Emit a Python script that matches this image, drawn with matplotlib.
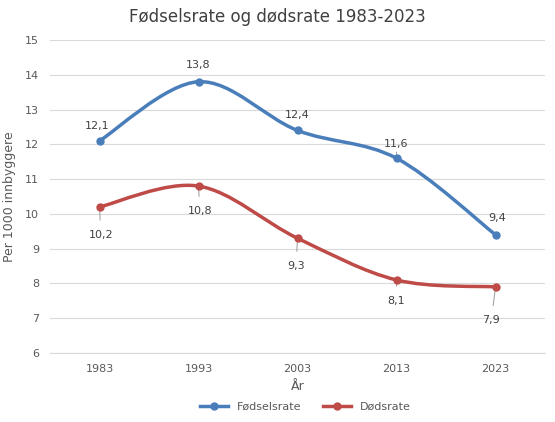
import matplotlib.pyplot as plt
from matplotlib.path import Path
from matplotlib.patches import PathPatch

years = ["1983", "1993", "2003", "2013", "2023"]
fodsel = [12.1, 13.8, 12.4, 11.6, 9.4]
dods = [10.2, 10.8, 9.3, 8.1, 7.9]
fodsel_offsets = [(-2, 11), (0, 12), (0, 11), (0, 10), (1, 12)]
dods_offsets = [(1, -20), (1, -18), (-1, -20), (0, -15), (-3, -24)]

BLUE = "#4a7ebb"
RED = "#be4b48"


def smooth_path(xs, ys, t=1 / 6):
    # Bezier spline through the points (Excel style smoothing)
    verts = [(xs[0], ys[0])]
    codes = [Path.MOVETO]
    n = len(xs)
    for i in range(n - 1):
        p0 = (xs[max(i - 1, 0)], ys[max(i - 1, 0)])
        p1 = (xs[i], ys[i])
        p2 = (xs[i + 1], ys[i + 1])
        p3 = (xs[min(i + 2, n - 1)], ys[min(i + 2, n - 1)])
        c1 = (p1[0] + (p2[0] - p0[0]) * t, p1[1] + (p2[1] - p0[1]) * t)
        c2 = (p2[0] - (p3[0] - p1[0]) * t, p2[1] - (p3[1] - p1[1]) * t)
        verts += [c1, c2, p2]
        codes += [Path.CURVE4] * 3
    return Path(verts, codes)


fig = plt.figure(figsize=(5.55, 4.22), dpi=100)
ax = fig.add_axes([50 / 555, 1 - 353 / 422, 495 / 555, 313 / 422])
x = list(range(len(years)))

for vals, col, name, offs in [(fodsel, BLUE, "Fødselsrate", fodsel_offsets),
                              (dods, RED, "Dødsrate", dods_offsets)]:
    ax.add_patch(PathPatch(smooth_path(x, vals), facecolor="none", edgecolor=col, lw=2.5, zorder=3))
    ax.plot(x, vals, "o", color=col, ms=5, zorder=4)
    ax.plot([], [], "-o", color=col, lw=2.5, ms=5, label=name)
    for xi, v, o in zip(x, vals, offs):
        ax.annotate(f"{v:.1f}".replace(".", ","), (xi, v), xytext=o, textcoords="offset points",
                    ha="center", va="center", fontsize=8, color="#404040",
                    arrowprops=dict(arrowstyle="-", color="#a6a6a6", lw=0.8, shrinkA=5, shrinkB=2))

ax.set_xlim(-0.5, 4.5)
ax.set_ylim(6, 15)
ax.set_xticks(x)
ax.set_xticklabels(years)
ax.set_yticks(range(6, 16))
ax.grid(axis="y", color="#d9d9d9", lw=0.8)
ax.set_axisbelow(True)
for s in ["top", "left", "right"]:
    ax.spines[s].set_visible(False)
ax.spines["bottom"].set_color("#d9d9d9")
ax.tick_params(length=0, labelsize=8, colors="#595959", pad=8)
ax.set_xlabel("År", fontsize=9, color="#595959", labelpad=4)
ax.set_ylabel("Per 1000 innbyggere", fontsize=9, color="#595959", labelpad=6)
fig.suptitle("Fødselsrate og dødsrate 1983-2023", fontsize=12, color="#404040", y=0.98)
fig.legend(loc="lower center", ncol=2, frameon=False, fontsize=8, bbox_to_anchor=(0.55, 0.0),
           handlelength=2.5, labelcolor="#595959")

fig.savefig("out.png", dpi=100)
